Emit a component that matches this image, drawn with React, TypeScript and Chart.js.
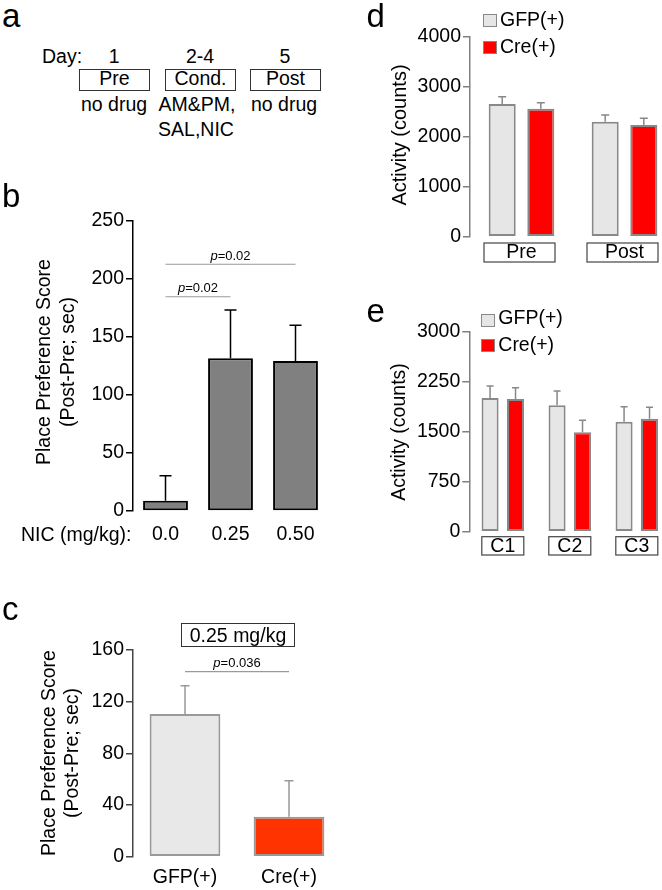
import React, { useEffect, useRef } from 'react';
import { Chart, registerables } from 'chart.js';
Chart.register(...registerables);

const FONT = '"Liberation Sans", Arial, Helvetica, sans-serif';
Chart.defaults.font.family = FONT;

// ---- Panel b: nicotine dose response ----
const doseLabels = ['0.0', '0.25', '0.50'];
const doseScores = [8.9, 131.6, 129.3];
const doseErrors = [21.5, 41.7, 30.8];
const doseComparisons = [
  { from: 0, to: 1, at: 184.7, p: '0.02' },
  { from: 0, to: 2, at: 212.7, p: '0.02' },
];

// ---- Panel c: genotype at 0.25 mg/kg ----
const genotypeLabels = ['GFP(+)', 'Cre(+)'];
const genotypeScores = [110.4, 31];
const genotypeErrors = [21.9, 27.8];
const genotypeComparisons = [{ from: 0, to: 1, at: 143.2, p: '0.036' }];

// ---- Panel d: activity Pre/Post ----
const sessionLabels = ['Pre', 'Post'];
const sessionGfp = [2654, 2300];
const sessionGfpErr = [146, 134];
const sessionCre = [2560, 2234];
const sessionCreErr = [120, 134];

// ---- Panel e: activity during conditioning ----
const condLabels = ['C1', 'C2', 'C3'];
const condGfp = [2005, 1895, 1650];
const condGfpErr = [180, 215, 225];
const condCre = [1990, 1490, 1695];
const condCreErr = [170, 180, 170];

const errorBars = {
  id: 'errorBars',
  afterDatasetsDraw(chart: any, _a: any, opts: any) {
    const ctx = chart.ctx;
    const y = chart.scales.y;
    chart.data.datasets.forEach((ds: any, di: number) => {
      const errs = opts.errors[di];
      if (!errs) return;
      const meta = chart.getDatasetMeta(di);
      meta.data.forEach((el: any, i: number) => {
        const v = ds.data[i];
        const top = y.getPixelForValue(v + errs[i]);
        const base = y.getPixelForValue(v);
        ctx.save();
        ctx.strokeStyle = opts.color;
        ctx.lineWidth = opts.width;
        ctx.beginPath();
        ctx.moveTo(el.x, base);
        ctx.lineTo(el.x, top);
        ctx.moveTo(el.x - opts.cap / 2, top);
        ctx.lineTo(el.x + opts.cap / 2, top);
        ctx.stroke();
        ctx.restore();
      });
    });
  },
};

const significance = {
  id: 'significance',
  afterDraw(chart: any, _a: any, opts: any) {
    if (!opts.items) return;
    const ctx = chart.ctx;
    const x = chart.scales.x;
    const y = chart.scales.y;
    opts.items.forEach((it: any) => {
      const x1 = x.getPixelForValue(it.from);
      const x2 = x.getPixelForValue(it.to);
      const yy = y.getPixelForValue(it.at);
      ctx.save();
      ctx.strokeStyle = opts.color;
      ctx.lineWidth = 1.2;
      ctx.beginPath();
      ctx.moveTo(x1, yy);
      ctx.lineTo(x2, yy);
      ctx.stroke();
      const size = opts.size;
      ctx.font = `italic ${size}px ${FONT}`;
      const wp = ctx.measureText('p').width;
      ctx.font = `${size}px ${FONT}`;
      const rest = '=' + it.p;
      const wr = ctx.measureText(rest).width;
      const sx = (x1 + x2) / 2 - (wp + wr) / 2;
      ctx.fillStyle = '#000';
      ctx.textBaseline = 'alphabetic';
      ctx.textAlign = 'left';
      ctx.font = `italic ${size}px ${FONT}`;
      ctx.fillText('p', sx, yy - 4.5);
      ctx.font = `${size}px ${FONT}`;
      ctx.fillText(rest, sx + wp, yy - 4.5);
      ctx.restore();
    });
  },
};

const categoryBoxes = {
  id: 'categoryBoxes',
  afterDraw(chart: any, _a: any, opts: any) {
    if (!opts.halfWidth) return;
    const ctx = chart.ctx;
    const x = chart.scales.x;
    const b = chart.chartArea.bottom;
    ctx.save();
    ctx.strokeStyle = opts.color;
    ctx.lineWidth = 1.2;
    chart.data.labels.forEach((_l: any, i: number) => {
      const cx = x.getPixelForValue(i) + opts.shift;
      ctx.strokeRect(cx - opts.halfWidth, b + opts.top, opts.halfWidth * 2, opts.height);
    });
    ctx.restore();
  },
};

function yAxis(min: number, max: number, step: number, width: number, color: string) {
  return {
    min,
    max,
    ticks: {
      stepSize: step,
      color: '#000',
      font: { size: 19.5, family: FONT },
      padding: 2,
      callback: (v: any) => String(v),
    },
    grid: { drawOnChartArea: false, drawTicks: true, tickLength: 7, color, lineWidth: 1.5 },
    border: { display: true, color, width: 1.5 },
    afterFit: (s: any) => {
      s.width = width;
    },
  };
}

function xAxis(height: number, padding: number, size: number) {
  return {
    offset: true,
    ticks: { color: '#000', font: { size, family: FONT }, padding, maxRotation: 0, autoSkip: false },
    grid: { display: false, drawTicks: false },
    border: { display: false },
    afterFit: (s: any) => {
      s.height = height;
    },
  };
}

function baseOptions(padding: any) {
  return {
    responsive: false,
    animation: false,
    layout: { padding },
  };
}

const configB = () => ({
  type: 'bar',
  data: {
    labels: doseLabels,
    datasets: [
      {
        data: doseScores,
        backgroundColor: '#808080',
        borderColor: '#000',
        borderWidth: 2,
        borderSkipped: false,
        barPercentage: 0.69,
        categoryPercentage: 1,
      },
    ],
  },
  options: {
    ...baseOptions({ top: 31, right: 12, left: 0, bottom: 0 }),
    scales: { x: xAxis(49, 12, 19.5), y: yAxis(0, 250, 50, 133, '#000') },
    plugins: {
      legend: { display: false },
      tooltip: { enabled: false },
      errorBars: { errors: [doseErrors], color: '#000', width: 1.5, cap: 12 },
      significance: { items: doseComparisons, color: '#9a9a9a', size: 13 },
    },
  },
  plugins: [errorBars, significance],
});

const configC = () => ({
  type: 'bar',
  data: {
    labels: genotypeLabels,
    datasets: [
      {
        data: genotypeScores,
        backgroundColor: ['#e8e8e8', '#ff3300'],
        borderColor: '#999',
        borderWidth: 2,
        borderSkipped: false,
        barPercentage: 0.68,
        categoryPercentage: 1,
      },
    ],
  },
  options: {
    ...baseOptions({ top: 20, right: 9, left: 0, bottom: 0 }),
    scales: { x: xAxis(33.3, 9.4, 19.5), y: yAxis(0, 160, 40, 133, '#444') },
    plugins: {
      legend: { display: false },
      tooltip: { enabled: false },
      errorBars: { errors: [genotypeErrors], color: '#999', width: 1.5, cap: 9 },
      significance: { items: genotypeComparisons, color: '#9a9a9a', size: 13 },
    },
  },
  plugins: [errorBars, significance],
});

const configD = () => ({
  type: 'bar',
  data: {
    labels: sessionLabels,
    datasets: [
      {
        label: 'GFP(+)',
        data: sessionGfp,
        backgroundColor: '#e6e6e6',
        borderColor: '#888',
        borderWidth: 2,
        borderSkipped: false,
        barPercentage: 0.7,
        categoryPercentage: 0.75,
      },
      {
        label: 'Cre(+)',
        data: sessionCre,
        backgroundColor: '#ff0000',
        borderColor: '#888',
        borderWidth: 2,
        borderSkipped: false,
        barPercentage: 0.7,
        categoryPercentage: 0.75,
      },
    ],
  },
  options: {
    ...baseOptions({ top: 16.7, right: 4, left: 0, bottom: 0 }),
    scales: { x: xAxis(33.3, 4.4, 19.5), y: yAxis(0, 4000, 1000, 100, '#808080') },
    plugins: {
      legend: { display: false },
      tooltip: { enabled: false },
      errorBars: { errors: [sessionGfpErr, sessionCreErr], color: '#888', width: 1.5, cap: 8 },
      categoryBoxes: { halfWidth: 35.5, shift: -2, top: 6.3, height: 19, color: '#444' },
    },
  },
  plugins: [errorBars, categoryBoxes],
});

const configE = () => ({
  type: 'bar',
  data: {
    labels: condLabels,
    datasets: [
      {
        label: 'GFP(+)',
        data: condGfp,
        backgroundColor: '#e6e6e6',
        borderColor: '#888',
        borderWidth: 2,
        borderSkipped: false,
        barPercentage: 0.67,
        categoryPercentage: 0.76,
      },
      {
        label: 'Cre(+)',
        data: condCre,
        backgroundColor: '#ff0000',
        borderColor: '#888',
        borderWidth: 2,
        borderSkipped: false,
        barPercentage: 0.67,
        categoryPercentage: 0.76,
      },
    ],
  },
  options: {
    ...baseOptions({ top: 16.7, right: 9.7, left: 0, bottom: 0 }),
    scales: { x: xAxis(33.3, 3.2, 19.5), y: yAxis(0, 3000, 750, 99.3, '#808080') },
    plugins: {
      legend: { display: false },
      tooltip: { enabled: false },
      errorBars: { errors: [condGfpErr, condCreErr], color: '#888', width: 1.5, cap: 7 },
      categoryBoxes: { halfWidth: 21, shift: 0, top: 5, height: 18.3, color: '#444' },
    },
  },
  plugins: [errorBars, categoryBoxes],
});

function ChartCanvas({ left, top, width, height, config }: any) {
  const ref = useRef<HTMLCanvasElement | null>(null);
  useEffect(() => {
    const chart = new Chart(ref.current as HTMLCanvasElement, config() as any);
    return () => chart.destroy();
  }, []);
  return (
    <canvas
      ref={ref}
      width={width}
      height={height}
      style={{ position: 'absolute', left, top, width, height }}
    />
  );
}

function T({ x, y, size = 19.5, align = 'left', children, style }: any) {
  const top = y - 0.8465 * size;
  const transform =
    align === 'center' ? 'translateX(-50%)' : align === 'right' ? 'translateX(-100%)' : undefined;
  return (
    <div
      style={{
        position: 'absolute',
        left: x,
        top,
        fontSize: size,
        lineHeight: `${size}px`,
        fontFamily: FONT,
        whiteSpace: 'nowrap',
        color: '#000',
        transform,
        ...style,
      }}
    >
      {children}
    </div>
  );
}

function RT({ cx, cy, size = 19.5, children }: any) {
  return (
    <div
      style={{
        position: 'absolute',
        left: cx,
        top: cy,
        transform: 'translate(-50%,-50%) rotate(-90deg)',
        fontSize: size,
        lineHeight: `${size}px`,
        fontFamily: FONT,
        whiteSpace: 'nowrap',
        color: '#000',
      }}
    >
      {children}
    </div>
  );
}

function Box({ x, y, w, h, color = '#333', bw = 1.2, fill = 'transparent' }: any) {
  return (
    <div
      style={{
        position: 'absolute',
        left: x,
        top: y,
        width: w,
        height: h,
        boxSizing: 'border-box',
        border: `${bw}px solid ${color}`,
        background: fill,
      }}
    />
  );
}

export default function App() {
  return (
    <div
      style={{
        position: 'fixed',
        left: 0,
        top: 0,
        width: 662,
        height: 890,
        overflow: 'hidden',
        background: '#fff',
      }}
    >
      <ChartCanvas left={0} top={190} width={340} height={370} config={configB} />
      <ChartCanvas left={0} top={630} width={350} height={260} config={configC} />
      <ChartCanvas left={370} top={20} width={310} height={250} config={configD} />
      <ChartCanvas left={370} top={315} width={310} height={250} config={configE} />

      {/* panel letters */}
      <T x={2} y={26.7} size={33}>a</T>
      <T x={2} y={207} size={33}>b</T>
      <T x={2} y={620} size={33}>c</T>
      <T x={366.5} y={27} size={33}>d</T>
      <T x={366.5} y={321.7} size={33}>e</T>

      {/* panel a */}
      <T x={42} y={63.3}>Day:</T>
      <T x={114.3} y={63.3} align="center">1</T>
      <T x={200} y={63.3} align="center">2-4</T>
      <T x={285} y={63.3} align="center">5</T>
      <Box x={79} y={69} w={71} h={22} />
      <Box x={165} y={69} w={71} h={22} />
      <Box x={250} y={69} w={71} h={22} />
      <T x={114.5} y={86} align="center">Pre</T>
      <T x={200.5} y={86} align="center">Cond.</T>
      <T x={285.5} y={86} align="center">Post</T>
      <T x={114} y={111.7} align="center">no drug</T>
      <T x={197} y={111.7} align="center">AM&amp;PM,</T>
      <T x={196} y={136.7} align="center">SAL,NIC</T>
      <T x={284} y={111.7} align="center">no drug</T>

      {/* panel b */}
      <RT cx={44} cy={362}>Place Preference Score</RT>
      <RT cx={68} cy={362}>(Post-Pre; sec)</RT>
      <T x={21} y={541.5}>NIC (mg/kg):</T>

      {/* panel c */}
      <RT cx={48.5} cy={753}>Place Preference Score</RT>
      <RT cx={71.5} cy={753}>(Post-Pre; sec)</RT>
      <Box x={181} y={623} w={114} h={24} color="#333" bw={1.5} />
      <T x={238} y={643} align="center">0.25 mg/kg</T>

      {/* panel d */}
      <RT cx={398.5} cy={135} size={20}>Activity (counts)</RT>
      <Box x={482.5} y={14} w={14} h={13} color="#888" bw={1.5} fill="#e6e6e6" />
      <T x={500} y={26.7}>GFP(+)</T>
      <Box x={482.5} y={40.7} w={14} h={13} color="#888" bw={1.5} fill="#ff0000" />
      <T x={500} y={53.3}>Cre(+)</T>

      {/* panel e */}
      <RT cx={398.5} cy={431.7}>Activity (counts)</RT>
      <Box x={481} y={314} w={14} h={13} color="#888" bw={1.5} fill="#e6e6e6" />
      <T x={498.3} y={325}>GFP(+)</T>
      <Box x={481} y={339.3} w={14} h={13} color="#888" bw={1.5} fill="#ff0000" />
      <T x={498.3} y={351.7}>Cre(+)</T>
    </div>
  );
}
